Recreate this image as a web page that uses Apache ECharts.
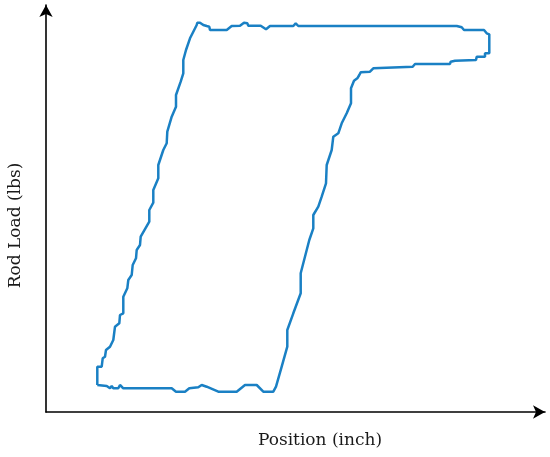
<!DOCTYPE html>
<html>
<head>
<meta charset="utf-8">
<script src="https://cdn.jsdelivr.net/npm/echarts@6/dist/echarts.min.js"></script>
<style>
  html, body { margin: 0; padding: 0; background: #fff; }
  #chart { width: 550px; height: 457px; }
</style>
</head>
<body>
<div id="chart"></div>
<script>
// Dynamometer card, one closed loop (arbitrary units, no tick labels on the original)
var positionData = [
  51.3, 60.7, 64, 65.7, 67.3, 72.3, 74, 77.3, 125.7, 130, 139, 143.3, 152.3, 155.7, 160.7, 172.3,
  190.7, 199, 210.7, 217.3, 227.3, 230, 235.7, 241.3, 241.3, 247.3, 254.7, 254.7, 263.3, 267.3,
  267.3, 272.3, 275.7, 280, 280.7, 285.7, 287.3, 292.3, 295.7, 300.7, 305, 305, 308, 311.3,
  313.3, 314.7, 324, 327.3, 366.7, 369, 404, 404.7, 406.7, 409, 430, 430.7, 439, 439, 443.3,
  443.3, 440.7, 438, 418, 415.7, 410.7, 252.3, 249.7, 247.3, 224, 220, 214.7, 202.3, 201.3,
  198, 194, 185.7, 180.7, 164, 163.3, 160.7, 157.3, 154, 151.3, 150.7, 147.3, 144, 140, 137.3,
  137.3, 134.7, 130, 130, 125.7, 121.3, 120.7, 117.3, 112.3, 112.3, 107.3, 107.3, 103.3, 103.3,
  94.7, 94, 90.7, 90, 86.7, 85.7, 82.3, 81.3, 77.3, 77.3, 74, 73.3, 69, 67.3, 64, 60, 59, 56.7,
  55.7, 51.3, 51.3
];
var loadData = [
  27, 26, 23.7, 26, 23.7, 23.7, 27, 23.7, 23.7, 20.3, 20.3, 23.7, 24.7, 27, 25.3, 20.3,
  20.3, 27, 27, 20.3, 20.3, 25.3, 45.3, 65.3, 82, 98.7, 118.7, 138.7, 172, 183.7,
  197, 205.3, 215.3, 228.7, 247, 262, 275.3, 278.7, 288.7, 298.7, 308.7, 323.7, 331.3, 333.7,
  337, 339.7, 340.3, 343.7, 345.3, 348, 348, 350.3, 348.7, 351.3, 352, 355.3, 355.3, 358.7, 358.7,
  377.7, 378.7, 382, 382, 384.7, 386, 386, 388.7, 386, 386, 382.7, 386.3, 386.3, 388.7,
  389.3, 386.3, 386, 382, 382, 385.3, 386, 387, 389.3, 389.3, 387, 380.3, 373.7, 362,
  352, 338.7, 330.3, 317, 305.3, 295.3, 280.3, 268.7, 262, 247, 233.7, 222, 209.3, 202, 190.3,
  175.3, 167, 162, 153.7, 147, 137, 132, 123.7, 115.3, 98.7, 97, 88.7, 85.3, 72, 65.3, 62,
  55.3, 53.7, 45.3, 45.3, 27
];

var LINE_COLOR = '#1a80c4';
var FONT = '"DejaVu Serif", "Liberation Serif", serif';

var points = positionData.map(function (x, i) { return [x, loadData[i]]; });

var chart = echarts.init(document.getElementById('chart'));
chart.setOption({
  animation: false,
  grid: { left: 46, right: 5, top: 5, bottom: 45, outerBoundsMode: 'none' },
  xAxis: {
    type: 'value',
    min: 0, max: 499,
    name: 'Position (inch)',
    nameLocation: 'middle',
    nameGap: 20,
    nameTextStyle: { fontFamily: FONT, fontSize: 17, color: '#1a1a1a', padding: [0, 0, 0, 49] },
    axisLine: { show: true, symbol: ['none', 'arrow'], symbolSize: [10, 12], lineStyle: { color: '#000', width: 1.6 } },
    axisTick: { show: false },
    axisLabel: { show: false },
    splitLine: { show: false }
  },
  yAxis: {
    type: 'value',
    min: 0, max: 407,
    name: 'Rod Load (lbs)',
    nameLocation: 'middle',
    nameGap: 22,
    nameTextStyle: { fontFamily: FONT, fontSize: 17, color: '#1a1a1a', padding: [0, 34, 0, 0] },
    axisLine: { show: true, symbol: ['none', 'arrow'], symbolSize: [10, 12], lineStyle: { color: '#000', width: 1.6 } },
    axisTick: { show: false },
    axisLabel: { show: false },
    splitLine: { show: false }
  },
  series: [{
    type: 'line',
    data: points,
    showSymbol: false,
    smooth: false,
    lineStyle: { color: LINE_COLOR, width: 2.5 }
  }]
});
</script>
</body>
</html>
